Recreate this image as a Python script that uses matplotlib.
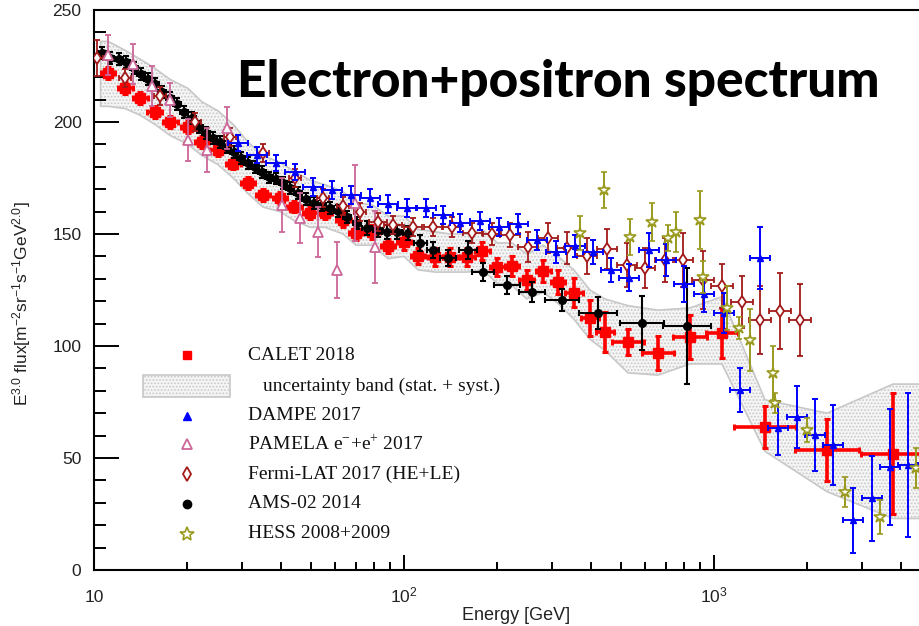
import numpy as np
import matplotlib
matplotlib.use('Agg')
import matplotlib.pyplot as plt
from matplotlib.patches import Rectangle

# ---------------- data ----------------
calet_E = [11.1, 12.6, 14.1, 15.7, 17.6, 20.1, 22.3, 25.1, 28.1, 31.4,
           35.1, 39.8, 44.2, 49.8, 55.6, 63.6, 70.0, 78.9, 88.8, 100,
           111, 126, 141, 160, 179, 200, 223, 249, 281, 314,
           353, 398, 445, 528, 660, 837, 1061, 1460, 2314, 3780]
calet_F = [221.9, 215.2, 210.7, 204.5, 200.0, 197.8, 191.1, 187.5, 181.3, 172.8,
           167.4, 166.1, 162.1, 159.4, 159.4, 156.3, 150.4, 150.9, 144.6, 146.4,
           140.2, 139.7, 139.7, 139.7, 142.4, 135.3, 135.7, 129.5, 133.5, 128.6,
           123.7, 112.5, 106.3, 101.8, 96.9, 104.0, 105.8, 63.8, 53.6, 51.8]
calet_err = [2.5, 2.5, 2.5, 2.5, 2.5, 2.5, 2.5, 2.5, 2.5, 2.5,
             2.5, 2.5, 2.5, 2.5, 2.5, 3, 3, 3, 3, 3.5,
             3.5, 4, 4, 4, 4, 4, 4.5, 4.5, 5, 5.5,
             6.5, 8, 9, 6, 7.5, 10, 11, 9.5, 14, 27]
calet_dlog = [0.024, 0.024, 0.024, 0.024, 0.024, 0.024, 0.024, 0.024, 0.024, 0.024,
              0.024, 0.024, 0.024, 0.024, 0.024, 0.024, 0.024, 0.024, 0.024, 0.024,
              0.024, 0.024, 0.024, 0.024, 0.024, 0.024, 0.024, 0.024, 0.024, 0.024,
              0.03, 0.03, 0.03, 0.052, 0.052, 0.055, 0.052, 0.1, 0.103, 0.103]

band_E = [10.5] + calet_E + [5000]
band_lo = [207, 207, 206, 203, 199, 194, 190, 185, 181, 175, 168, 162, 160, 156, 153,
           153, 150, 145, 145, 139, 140, 134, 133, 133, 133, 134, 128, 127, 121,
           124, 119, 112, 103, 98, 88, 87, 92, 92, 53, 35, 23, 23]
band_hi = [236, 236, 232, 228, 224, 219, 215, 209, 205, 199, 191, 185, 182, 178, 174,
           172, 169, 164, 163, 158, 158, 152, 151, 150, 150, 152, 146, 146, 141,
           145, 140, 134, 125, 121, 118, 116, 117, 122, 76, 70, 83, 83]

ams_E = [10.6, 11.3, 12.0, 12.7, 13.5, 14.2, 14.9, 15.7, 16.6, 17.6,
         18.5, 19.5, 20.7, 21.8, 23.0, 24.2, 25.5, 26.9, 28.3, 29.8,
         31.4, 33.1, 34.8, 36.7, 38.6, 40.7, 42.9, 45.5, 48.3, 51.2,
         54.4, 57.7, 61.2, 65.5, 70.5, 75.9, 82.5, 88.1, 94.9, 103,
         113, 124, 139, 161, 180, 215, 259, 323, 423, 586, 818]
ams_F = [230.8, 228.6, 228.1, 226.8, 224.1, 221.4, 219.2, 217.0, 213.4, 210.7,
         208.0, 204.5, 201.8, 197.8, 195.1, 192.9, 191.1, 188.8, 186.6, 183.9,
         181.7, 179.9, 177.7, 175.4, 174.6, 172.8, 170.5, 168.3, 165.6, 163.8,
         162.9, 161.6, 160.3, 157.6, 154.9, 152.7, 151.8, 150.9, 150.9, 150.4,
         146.0, 142.9, 139.3, 143.0, 133.0, 127.2, 124.1, 120.5, 114.7, 110.3, 108.9]
ams_err = [2.5, 2.5, 2.5, 2.5, 2.5, 2.5, 2.5, 2.5, 2.5, 2.5,
           2.5, 2.5, 2.5, 2.5, 2.5, 2.5, 2.5, 2.5, 2.5, 2.5,
           2.5, 2.5, 2.5, 2.5, 2.5, 2.5, 2.5, 2.5, 2.5, 2.5,
           2.5, 2.5, 2.5, 2.5, 2.5, 3, 3, 3, 3, 3,
           3.5, 3.5, 3.5, 4, 4, 4, 4.5, 5, 7, 12, 26]
ams_dlog = [0.013, 0.013, 0.013, 0.013, 0.013, 0.013, 0.013, 0.013, 0.013, 0.013,
            0.013, 0.013, 0.013, 0.013, 0.013, 0.013, 0.013, 0.013, 0.013, 0.013,
            0.013, 0.013, 0.013, 0.013, 0.013, 0.013, 0.013, 0.013, 0.013, 0.013,
            0.013, 0.013, 0.013, 0.013, 0.013, 0.015, 0.015, 0.015, 0.015, 0.017,
            0.02, 0.02, 0.026, 0.03, 0.035, 0.042, 0.042, 0.055, 0.061, 0.072, 0.076]

dampe_E = [29.1, 33.6, 38.6, 44.5, 50.9, 58.6, 67.5, 77.7, 88.8, 102,
           118, 134, 152, 176, 203, 233, 269, 309, 356, 407,
           465, 532, 617, 700, 801, 929, 1077, 1213, 1407, 1609,
           1852, 2118, 2421, 2808, 3234, 3696, 4226]
dampe_F = [190.6, 185.3, 181.7, 177.7, 171.0, 169.6, 167.4, 166.1, 163.4, 161.6,
           161.6, 158.5, 154.9, 155.8, 153.1, 154.5, 147.3, 142.0, 144.6, 142.0,
           133.9, 130.4, 142.9, 138.4, 127.7, 123.2, 114.7, 80.4, 139.3, 63.4,
           68.3, 60.3, 55.8, 22.3, 32.1, 46.0, 46.9]
dampe_err = [3.5, 3.5, 3.5, 3.5, 4, 4, 4, 4, 4, 4,
             4, 4, 4, 4, 4, 4.5, 4.5, 5, 5, 5.5,
             5.5, 6, 7.5, 7, 8, 8, 9, 10, 14, 12,
             14, 16, 18, 14.5, 19, 26, 32]
dampe_dlog = 0.032

pamela_E = [11.1, 13.4, 15.4, 17.6, 20.1, 23.2, 26.9, 40.4, 46.2, 52.8, 60.8, 69.5, 80.6]
pamela_F = [229.9, 225.9, 216.1, 209.8, 192.0, 187.5, 197.3, 162.9, 157.1, 150.9, 133.9, 163.8, 144.2]
pamela_err = [8.9, 9, 9, 7.5, 9.4, 10, 9.4, 12, 11, 11, 12.5, 17, 16]

fermi_E = [10.2, 12.6, 16.3, 21.2, 27.5, 35.1, 44.5, 54.8, 63.6, 72.1,
           82.5, 92.2, 107, 124, 143, 166, 192, 220, 251, 291,
           336, 389, 452, 524, 599, 695, 794, 921, 1061, 1231,
           1407, 1633, 1894]
fermi_F = [228.6, 219.6, 211.6, 200.0, 193.3, 186.2, 175.0, 166.1, 162.5, 159.8,
           155.4, 154.0, 153.1, 153.1, 153.1, 150.4, 150.0, 149.6, 144.2, 148.2,
           143.7, 140.2, 143.3, 136.2, 134.8, 138.4, 138.4, 129.5, 126.8, 119.6,
           111.6, 115.6, 111.6]
fermi_err = [8, 4, 4, 4, 4, 4, 4, 4, 4, 4,
             4, 4, 4, 4, 4.5, 4.5, 5, 5.5, 6.5, 6.5,
             7, 8, 9, 10, 9, 10, 12, 13, 10, 11.5,
             15, 17, 16]
fermi_dlog = [0.02, 0.02, 0.02, 0.02, 0.02, 0.02, 0.02, 0.02, 0.02, 0.02,
              0.03, 0.03, 0.03, 0.03, 0.03, 0.03, 0.03, 0.033, 0.033, 0.033,
              0.033, 0.033, 0.033, 0.033, 0.033, 0.033, 0.033, 0.035, 0.035, 0.035,
              0.035, 0.035, 0.035]

hess_E = [370, 442, 536, 631, 711, 754, 901, 921, 1101, 1204, 1307, 1550, 1574,
          1995, 2646, 3431, 4483]
hess_F = [150.4, 169.6, 148.7, 155.4, 148.2, 150.9, 156.3, 130.8, 117.0, 108.0, 102.7,
          87.9, 74.6, 62.5, 34.8, 23.7, 45.5]
hess_err = [7.6, 8, 8, 8.5, 6, 9, 13, 7, 10, 5, 14, 12, 4.5, 5.4, 6.7, 7.6, 9]

legend_labels = ['CALET 2018', 'uncertainty band (stat. + syst.)', 'DAMPE 2017',
                 r'PAMELA e$^{\mathregular{-}}$+e$^{\mathregular{+}}$ 2017',
                 'Fermi-LAT 2017 (HE+LE)', 'AMS-02 2014', 'HESS 2008+2009']
y_ticks = [0, 50, 100, 150, 200, 250]
x_ticks = [10, 100, 1000]
x_ticklabels = ['10', r'$\mathregular{10^{2}}$', r'$\mathregular{10^{3}}$']
title = 'Electron+positron spectrum'

# ---------------- style ----------------
plt.rcParams['font.family'] = ['Liberation Sans', 'DejaVu Sans']
plt.rcParams['mathtext.fontset'] = 'custom'
plt.rcParams['mathtext.rm'] = 'Liberation Sans'
plt.rcParams['mathtext.it'] = 'Liberation Sans:italic'
plt.rcParams['mathtext.bf'] = 'Liberation Sans:bold'
plt.rcParams['hatch.linewidth'] = 0.8

W, H = 919, 626
fig = plt.figure(figsize=(W / 100, H / 100), dpi=100)
XMAX = 5000.0
ax_w_px = (np.log10(XMAX) - 1.0) * 310.0
ax = fig.add_axes([94 / W, (H - 570) / H, ax_w_px / W, 560 / H])
ax.set_xscale('log')
ax.set_xlim(10, XMAX)
ax.set_ylim(0, 250)


def xerr_of(E, dlog):
    E = np.asarray(E, float)
    d = np.asarray(dlog, float)
    return np.vstack([E - E * 10 ** (-d), E * 10 ** d - E])


BAND_FACE = '#f5f5f5'
BAND_EDGE = '#c8c8c8'
ax.fill_between(band_E, band_lo, band_hi, facecolor=BAND_FACE, edgecolor=BAND_EDGE,
                hatch='.....', linewidth=1.2, zorder=1)

C_CALET = '#ff0000'
C_DAMPE = '#0000ff'
C_PAM = '#cc6699'
C_FERMI = '#a31a1a'
C_AMS = '#000000'
C_HESS = '#9a9a1e'

ax.errorbar(calet_E, calet_F, yerr=calet_err, xerr=xerr_of(calet_E, calet_dlog),
            fmt='s', color=C_CALET, ms=6.5, elinewidth=2.6, capsize=2.5, capthick=2.2,
            zorder=3)
ax.errorbar(ams_E, ams_F, yerr=ams_err, xerr=xerr_of(ams_E, ams_dlog),
            fmt='o', color=C_AMS, ms=5.5, elinewidth=1.5, capsize=2.5, capthick=1.5,
            zorder=4)
ax.errorbar(fermi_E, fermi_F, yerr=fermi_err, xerr=xerr_of(fermi_E, fermi_dlog),
            fmt='d', color=C_FERMI, mfc='white', mec=C_FERMI, mew=1.3, ms=6.5,
            elinewidth=1.3, capsize=2.5, capthick=1.3, zorder=5)
ax.errorbar(pamela_E, pamela_F, yerr=pamela_err,
            fmt='^', color=C_PAM, mfc='white', mec=C_PAM, mew=1.3, ms=7,
            elinewidth=1.3, capsize=2.5, capthick=1.3, zorder=5)
ax.errorbar(dampe_E, dampe_F, yerr=dampe_err,
            xerr=xerr_of(dampe_E, np.full(len(dampe_E), dampe_dlog)),
            fmt='^', color=C_DAMPE, ms=5, elinewidth=1.4, capsize=2.5, capthick=1.4,
            zorder=6)
ax.errorbar(hess_E, hess_F, yerr=hess_err,
            fmt='*', color=C_HESS, mfc='white', mec=C_HESS, mew=1.2, ms=9,
            elinewidth=1.4, capsize=2.5, capthick=1.4, zorder=7)

# ---------------- axes ----------------
for s in ['left', 'bottom', 'top']:
    ax.spines[s].set_linewidth(1.5)
ax.spines['right'].set_visible(False)

ax.set_yticks(y_ticks)
ax.set_yticks(np.arange(0, 251, 10), minor=True)
ax.set_xticks(x_ticks)
ax.set_xticklabels([''] * len(x_ticks))
ax.xaxis.set_minor_locator(matplotlib.ticker.LogLocator(base=10, subs=np.arange(2, 10)))
ax.xaxis.set_minor_formatter(matplotlib.ticker.NullFormatter())
ax.tick_params(axis='y', which='major', direction='in', length=18, width=1.4, pad=9,
               labelsize=12.5, labelcolor='#222222')
ax.tick_params(axis='y', which='minor', direction='in', length=8.5, width=1.4)
ax.tick_params(axis='x', which='major', direction='in', length=11, width=1.4)
ax.tick_params(axis='x', which='minor', direction='in', length=5.5, width=1.4)

for xv, lab in zip(x_ticks, x_ticklabels):
    ax.text(xv, -32 / 560, lab, transform=ax.get_xaxis_transform(), ha='center',
            va='baseline', fontsize=12.5, color='#222222', clip_on=False)

fig.text(22 / W, 1 - 304 / H,
         r'E$^{\mathregular{3.0}}$ flux[m$^{\mathregular{-2}}$sr$^{\mathregular{-1}}$s$^{\mathregular{-1}}$GeV$^{\mathregular{2.0}}$]',
         rotation=90, ha='center', va='center', fontsize=12.5, color='#222222')
fig.text(516 / W, 1 - 624 / H, 'Energy [GeV]', ha='center', va='bottom',
         fontsize=13, color='#222222')

fig.text(237 / W, 1 - 97 / H, title, ha='left', va='baseline', fontsize=37,
         family=['Lato', 'DejaVu Sans'], fontweight='black', color='black')

# ---------------- legend (drawn manually) ----------------
def F(x, y):
    return x / W, 1 - y / H

rows = [355, 386, 416, 444, 474, 504, 534]
mx = 187
styles = [dict(marker='s', color=C_CALET, ms=6),
          None,
          dict(marker='^', color=C_DAMPE, ms=5.5),
          dict(marker='^', color=C_PAM, mfc='white', mec=C_PAM, mew=1.3, ms=7),
          dict(marker='d', color=C_FERMI, mfc='white', mec=C_FERMI, mew=1.3, ms=7),
          dict(marker='o', color=C_AMS, ms=6),
          dict(marker='*', color=C_HESS, mfc='white', mec=C_HESS, mew=1.2, ms=10)]
for ry, st, lab in zip(rows, styles, legend_labels):
    if st is None:
        x0, y0 = F(143, 397)
        x1, y1 = F(230, 375)
        fig.add_artist(Rectangle((x0, y0), x1 - x0, y1 - y0, transform=fig.transFigure,
                                 facecolor=BAND_FACE, edgecolor=BAND_EDGE, hatch='.....',
                                 linewidth=1.2))
        tx = 263
    else:
        px, py = F(mx, ry)
        ax.plot([px], [py], transform=fig.transFigure, linestyle='none', clip_on=False,
                **st)
        tx = 248
    fig.text(*F(tx, ry), lab, ha='left', va='center', fontsize=14,
             family=['Liberation Serif', 'DejaVu Serif'], color='#111111')

fig.savefig('out.png', dpi=100)
